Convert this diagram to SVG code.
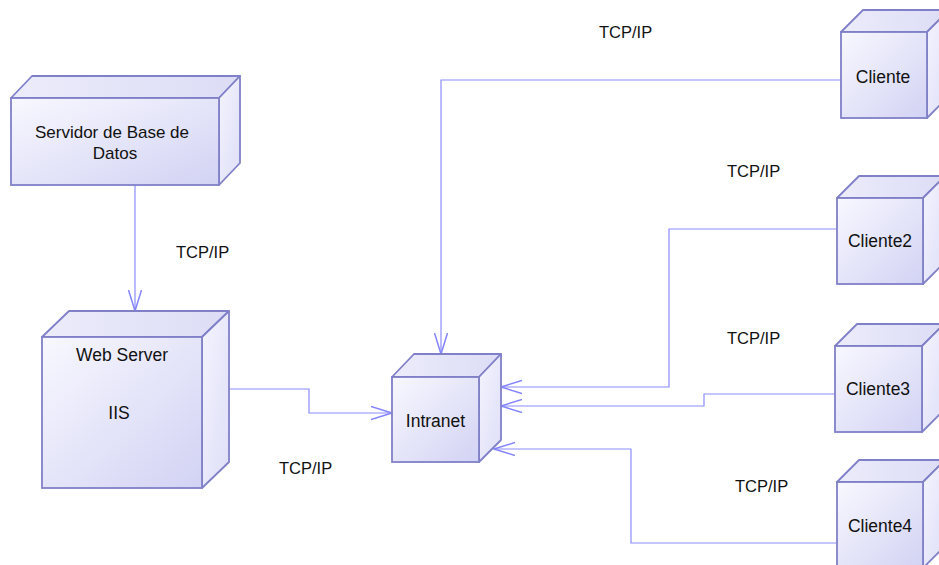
<svg xmlns="http://www.w3.org/2000/svg" width="939" height="565" viewBox="0 0 939 565">
<defs>
<linearGradient id="gFront" x1="0" y1="0" x2="1" y2="1">
<stop offset="0" stop-color="#f8f8ff"/>
<stop offset="1" stop-color="#d2d2f4"/>
</linearGradient>
<linearGradient id="gTop" x1="0" y1="0" x2="1" y2="0">
<stop offset="0" stop-color="#ececfb"/>
<stop offset="1" stop-color="#dcdcf6"/>
</linearGradient>
<linearGradient id="gSide" x1="0" y1="0" x2="1" y2="1">
<stop offset="0" stop-color="#f4f4fe"/>
<stop offset="1" stop-color="#dedef8"/>
</linearGradient>
<marker id="arr" viewBox="0 0 22 16" refX="21" refY="8" markerWidth="22" markerHeight="16" markerUnits="userSpaceOnUse" orient="auto">
<path d="M0,1.5 L21,8 L0,14.5" fill="none" stroke="#8484ff" stroke-width="1.5"/>
</marker>
</defs>
<style>
.front{fill:url(#gFront);stroke:#8080c8;stroke-width:1.8}
.top{fill:url(#gTop);stroke:#8080c8;stroke-width:1.8;stroke-linejoin:round}
.side{fill:url(#gSide);stroke:#8080c8;stroke-width:1.8;stroke-linejoin:round}
.conn{fill:none;stroke:#8c8cff;stroke-width:1.2;marker-end:url(#arr)}
text{font-family:"Liberation Sans",Arial,sans-serif;fill:#111}
.nt{font-size:17.5px;text-anchor:middle}
.lbl{font-size:16.5px}
</style>

<g id="connectors">
<path class="conn" d="M135,185 V311"/>
<path class="conn" d="M229,389 H309 V413 H392"/>
<path class="conn" d="M841,80 H441 V354"/>
<path class="conn" d="M837,229 H669 V387 H501"/>
<path class="conn" d="M835,394 H704 V406 H501"/>
<path class="conn" d="M837,543 H631 V449 H494"/>
</g>

<g id="labels">
<text class="lbl" x="176" y="258">TCP/IP</text>
<text class="lbl" x="279" y="474">TCP/IP</text>
<text class="lbl" x="599" y="38">TCP/IP</text>
<text class="lbl" x="727" y="177">TCP/IP</text>
<text class="lbl" x="727" y="344">TCP/IP</text>
<text class="lbl" x="735" y="492">TCP/IP</text>
</g>

<g id="servidor">
<polygon class="top" points="11,98 32,76 240,76 219,98"/>
<polygon class="side" points="219,98 240,76 240,163 219,185"/>
<rect class="front" x="11" y="98" width="208" height="87"/>
<text class="nt" x="112" y="138" style="font-size:17px">Servidor de Base de</text>
<text class="nt" x="115" y="159" style="font-size:17px">Datos</text>
</g>

<g id="webserver">
<polygon class="top" points="42,337 69,311 229,311 202,337"/>
<polygon class="side" points="202,337 229,311 229,462 202,488"/>
<rect class="front" x="42" y="337" width="160" height="151"/>
<text class="nt" x="122" y="361">Web Server</text>
<text class="nt" x="119" y="419">IIS</text>
</g>

<g id="intranet">
<polygon class="top" points="392,377 414,354 501,354 479,377"/>
<polygon class="side" points="479,377 501,354 501,440 479,462"/>
<rect class="front" x="392" y="377" width="87" height="85"/>
<text class="nt" x="435.5" y="427">Intranet</text>
</g>

<g id="cliente">
<polygon class="top" points="841,32 863,10 949,10 927,32"/>
<polygon class="side" points="927,32 949,10 949,96 927,118"/>
<rect class="front" x="841" y="32" width="86" height="86"/>
<text class="nt" x="883" y="83">Cliente</text>
</g>

<g id="cliente2">
<polygon class="top" points="837,198 859,176 945,176 923,198"/>
<polygon class="side" points="923,198 945,176 945,262 923,284"/>
<rect class="front" x="837" y="198" width="86" height="86"/>
<text class="nt" x="880" y="247">Cliente2</text>
</g>

<g id="cliente3">
<polygon class="top" points="835,346 857,324 944,324 922,346"/>
<polygon class="side" points="922,346 944,324 944,410 922,432"/>
<rect class="front" x="835" y="346" width="87" height="86"/>
<text class="nt" x="878" y="395">Cliente3</text>
</g>

<g id="cliente4">
<polygon class="top" points="837,482 859,460 945,460 923,482"/>
<polygon class="side" points="923,482 945,460 945,546 923,568"/>
<rect class="front" x="837" y="482" width="86" height="86"/>
<text class="nt" x="880" y="532">Cliente4</text>
</g>
</svg>
